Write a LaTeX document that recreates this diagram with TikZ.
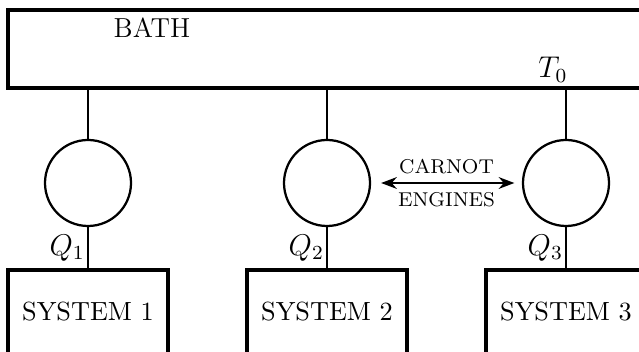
\documentclass[tikz,border=0pt]{standalone}
\usepackage{amsmath}
\usepackage{tikz}
\usetikzlibrary{arrows.meta}

\begin{document}
\begin{tikzpicture}[
  x=0.4pt, y=-0.4pt,
  font=\fontsize{10.5}{12}\selectfont,
  box/.style={draw, line width=1.3pt, rectangle, inner sep=0pt},
  engine/.style={draw, line width=0.9pt, circle, minimum size=34.4pt, inner sep=0pt},
  link/.style={line width=0.9pt},
  qlabel/.style={anchor=east, inner sep=0.8pt, font=\large},
  flow/.style={{Stealth[length=2.2mm]}-{Stealth[length=2.2mm]}, line width=0.9pt}
]
\useasboundingbox (0,0) rectangle (639,352);
\clip (0,0) rectangle (639,352);
% Bath across the top
\node[box, minimum width=260.8pt, minimum height=31.2pt] (bath) at (334,49) {};
\node (bathlabel) at (152,28) {\fontsize{11}{13}\selectfont BATH};
\node[font=\large] (temp) at (553,70) {$T_0$};

% Carnot engines
\node[engine] (e1) at (88,183) {};
\node[engine] (e2) at (327,183) {};
\node[engine] (e3) at (566,183) {};

% Systems
\node[box, minimum width=64pt, minimum height=33.6pt] (s1) at (88,312) {SYSTEM 1};
\node[box, minimum width=64pt, minimum height=33.6pt] (s2) at (327,312) {SYSTEM 2};
\node[box, minimum width=64pt, minimum height=33.6pt] (s3) at (566,312) {SYSTEM 3};

% Connectors
\draw[link] (bath.south -| e1) -- (e1.north);
\draw[link] (bath.south -| e2) -- (e2.north);
\draw[link] (bath.south -| e3) -- (e3.north);
\draw[link] (e1.south) -- node[qlabel] {$Q_1$} (s1.north);
\draw[link] (e2.south) -- node[qlabel] {$Q_2$} (s2.north);
\draw[link] (e3.south) -- node[qlabel] {$Q_3$} (s3.north);

\draw[flow, shorten <=4pt, shorten >=3pt] (e2) -- node[above, font=\footnotesize] {CARNOT}
  node[below, font=\footnotesize] {ENGINES} (e3);
\end{tikzpicture}
\end{document}
